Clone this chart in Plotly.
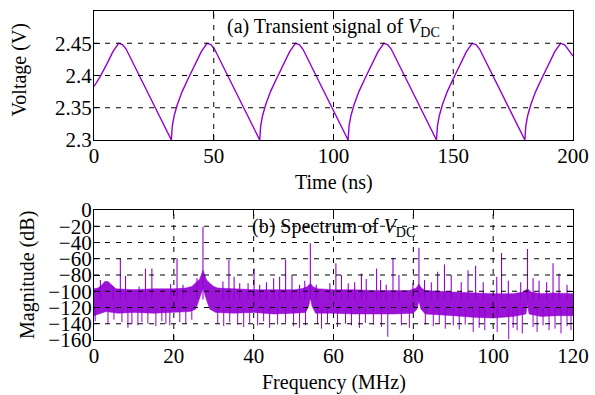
import plotly.graph_objects as go

# ---------------- (a) transient waveform ----------------
time_ns = [0, 2.4, 5.4, 7.9, 10.3, 11.9, 13.4,
           32.3, 32.7, 33.5, 34.8, 36.8, 39.3, 42.3, 44.8, 47.2, 48.8, 50.3,
           69.2, 69.6, 70.4, 71.7, 73.7, 76.2, 79.2, 81.7, 84.1, 85.7, 87.2,
           106.1, 106.5, 107.3, 108.6, 110.6, 113.1, 116.1, 118.6, 121.0, 122.6, 124.1,
           143.0, 143.4, 144.2, 145.5, 147.5, 150.0, 153.0, 155.5, 157.9, 159.5, 161.0,
           179.9, 180.3, 181.1, 182.4, 184.4, 186.9, 189.9, 192.4, 194.8, 196.4, 197.9, 200]
voltage = [2.383, 2.397, 2.418, 2.437, 2.450, 2.448, 2.441,
           2.300, 2.322, 2.338, 2.355, 2.375, 2.395, 2.418, 2.437, 2.450, 2.448, 2.441,
           2.300, 2.322, 2.338, 2.355, 2.375, 2.395, 2.418, 2.437, 2.450, 2.448, 2.441,
           2.300, 2.322, 2.338, 2.355, 2.375, 2.395, 2.418, 2.437, 2.450, 2.448, 2.441,
           2.300, 2.322, 2.338, 2.355, 2.375, 2.395, 2.418, 2.437, 2.450, 2.448, 2.441,
           2.300, 2.322, 2.338, 2.355, 2.375, 2.395, 2.418, 2.437, 2.450, 2.448, 2.441, 2.430]

time_ticks = [0, 50, 100, 150, 200]
volt_ticks = [2.3, 2.35, 2.4, 2.45, 2.5]
volt_ticktext = ["2.3", "2.35", "2.4", "2.45", "2.5"]

# ---------------- (b) spectrum ----------------
# upper edge of the dense noise floor (MHz, dB)
upper_f = [0, 1, 2, 2.7, 3.5, 4.5, 5.5, 10, 15, 20, 23, 24.5, 25.5, 26.5, 27.0, 27.3, 27.6,
           28.2, 29, 30, 31, 35, 40, 45, 50, 52, 53.5, 54.2, 54.8, 56, 60, 65, 70, 75, 79,
           80.7, 81.4, 82, 83, 90, 95, 100, 105, 107.5, 108.6, 109.5, 112, 115, 120]
upper_db = [-97, -96, -92, -88, -88, -92, -97, -98, -97, -97, -96, -94, -90, -85, -78, -74, -78,
            -86, -90, -94, -96, -97, -98, -98, -98, -97, -94, -90, -94, -97, -98, -98, -99, -99, -99,
            -96, -91, -96, -99, -101, -102, -103, -103, -101, -97, -101, -103, -102, -103]
# lower edge of the dense noise floor (MHz, dB)
lower_f = [0, 3, 6, 10, 15, 20, 24, 25.5, 26.5, 27.3, 28.0, 29, 30.5, 35, 40, 45, 50, 53,
           53.8, 54.2, 54.6, 55.5, 60, 65, 70, 75, 80, 80.9, 81.4, 81.9, 83, 90, 95, 100,
           105, 108.2, 108.6, 109.0, 112, 116, 120]
lower_db = [-130, -125, -127, -126, -127, -126, -125, -122, -108, -96, -108, -122, -126, -127,
            -126, -128, -127, -126, -118, -108, -118, -127, -127, -128, -128, -128, -127, -122,
            -112, -122, -128, -130, -132, -133, -131, -128, -116, -128, -131, -130, -130]

# downward noise excursions (MHz, dB)
dip_f = [0.3, 3.5, 5, 7, 8.5, 9.5, 11, 12, 13.5, 15.5, 17, 18, 19, 21.5, 23, 24.5,
         31, 32.5, 34, 36, 37.5, 39, 41, 42.5, 44, 46, 48, 50, 51.5, 53, 56, 57, 58.5,
         61, 63, 64.5, 66.5, 68, 70, 72, 73.6, 77, 79, 83, 85, 86.5, 88, 90, 91.5, 93,
         95, 96.5, 97.9, 101, 103.9, 105, 106, 107.3, 110, 111, 112.5, 114, 115.5, 117,
         118.5, 119.5]
dip_db = [-137, -140, -135, -138, -145, -140, -142, -138, -140, -143, -137, -140, -142, -138,
          -140, -135, -140, -143, -138, -141, -144, -139, -142, -137, -145, -141, -139, -143,
          -145, -142, -140, -146, -139, -144, -140, -142, -145, -139, -141, -144, -156, -142,
          -145, -141, -143, -139, -146, -142, -147, -141, -150, -145, -148, -150, -159, -145,
          -148, -152, -144, -150, -142, -148, -146, -152, -143, -148]

# discrete spectral lines (MHz, peak dB)
line_f = [1.6, 4.8, 6.6, 7.9, 11.3, 12.9, 14.5, 19.2, 20.8, 22.3, 25.8, 27.3,
          32.3, 33.8, 35.1, 36.5, 38.6, 40.1, 41.5, 43.2, 45.0, 46.5, 48.0, 49.6,
          51.5, 52.8, 54.2, 55.7, 59.1, 60.6, 62.0, 63.7, 65.3, 67.0, 68.2, 70.8,
          71.8, 73.2, 74.9, 76.4, 79.9, 81.4, 82.8, 84.5, 86.1, 87.8, 89.5, 92.0,
          93.7, 95.6, 97.5, 100.9, 102.1, 103.8, 106.9, 108.6, 110.0, 111.5, 113.4,
          115.0, 116.5, 118.5]
line_db = [-86, -94, -60, -81, -94, -72, -72, -91, -59.5, -92, -84, -20.5,
           -88, -61.5, -82, -90, -90, -72, -92, -89, -84, -82, -61.5, -80,
           -92, -87, -41, -92, -90, -65.5, -80, -90, -89, -78, -85, -72,
           -86, -92, -58.7, -80, -90, -46.4, -86, -89, -76, -67, -80, -89,
           -74, -68.6, -89, -82, -53, -87, -89, -48, -84, -87, -89,
           -65.6, -78, -92]
line_base_db = -110

freq_ticks = [0, 20, 40, 60, 80, 100, 120]
mag_ticks = [0, -20, -40, -60, -80, -100, -120, -140, -160]
mag_ticktext = ["0", "\u221220", "\u221240", "\u221260", "\u221280", "\u2212100",
                "\u2212120", "\u2212140", "\u2212160"]

PURPLE = "#9400D3"
FONT = "Liberation Serif"
FS = 20
TFS = 21

fig = go.Figure()

fig.add_trace(go.Scatter(x=time_ns, y=voltage, mode="lines",
                         line=dict(color=PURPLE, width=1.4), xaxis="x", yaxis="y",
                         showlegend=False, hoverinfo="skip"))

# noise band: polygon from upper edge and reversed lower edge
band_x = upper_f + lower_f[::-1]
band_y = upper_db + lower_db[::-1]
fig.add_trace(go.Scatter(x=band_x, y=band_y, mode="lines", fill="toself",
                         fillcolor="#9A14D6", line=dict(color=PURPLE, width=0.5),
                         xaxis="x2", yaxis="y2", showlegend=False, hoverinfo="skip"))

# downward excursions
dx, dy = [], []
for f, d in zip(dip_f, dip_db):
    dx += [f, f, None]
    dy += [-120, d, None]
fig.add_trace(go.Scatter(x=dx, y=dy, mode="lines", line=dict(color=PURPLE, width=1),
                         xaxis="x2", yaxis="y2", showlegend=False, hoverinfo="skip"))

# spectral lines
lx, ly = [], []
for f, d in zip(line_f, line_db):
    lx += [f, f, None]
    ly += [line_base_db, d, None]
fig.add_trace(go.Scatter(x=lx, y=ly, mode="lines", line=dict(color=PURPLE, width=1.1),
                         xaxis="x2", yaxis="y2", showlegend=False, hoverinfo="skip"))

# dashed grid drawn above the data
grid_style = dict(color="black", width=1, dash="5px,6px")
shapes = []
for t in time_ticks[1:-1]:
    shapes.append(dict(type="line", xref="x", yref="y domain", x0=t, x1=t, y0=0, y1=1,
                       line=grid_style, layer="above"))
for v in volt_ticks[1:-1]:
    shapes.append(dict(type="line", xref="x domain", yref="y", x0=0, x1=1, y0=v, y1=v,
                       line=grid_style, layer="above"))
for f in freq_ticks[1:-1]:
    shapes.append(dict(type="line", xref="x2", yref="y2 domain", x0=f, x1=f, y0=0, y1=1,
                       line=grid_style, layer="above"))
for m in mag_ticks[1:-1]:
    shapes.append(dict(type="line", xref="x2 domain", yref="y2", x0=0, x1=1, y0=m, y1=m,
                       line=grid_style, layer="above"))

axis_common = dict(showgrid=False, zeroline=False, showline=True, linecolor="black",
                   linewidth=1.2, mirror="allticks", ticks="inside", ticklen=6,
                   tickcolor="black", tickwidth=1.2, layer="above traces", automargin=False,
                   tickfont=dict(family=FONT, size=TFS, color="black"))

H = 395
top_px, mid1_px, mid2_px, bot_px = 11, 140, 210, 340
span = bot_px - top_px

fig.update_layout(
    width=595, height=395,
    margin=dict(l=94, r=22, t=top_px, b=H - bot_px, autoexpand=False),
    paper_bgcolor="white", plot_bgcolor="white",
    font=dict(family=FONT, size=FS, color="black"),
    xaxis=dict(domain=[0, 1], range=[0, 200], tickvals=time_ticks, anchor="y",
               ticklabelstandoff=-3, **axis_common),
    yaxis=dict(domain=[(bot_px - mid1_px) / span, 1], range=[2.3, 2.5], tickvals=volt_ticks,
               ticktext=volt_ticktext, anchor="x", ticklabelstandoff=-3, **axis_common),
    xaxis2=dict(domain=[0, 1], range=[0, 120], tickvals=freq_ticks, anchor="y2",
                ticklabelstandoff=-3, **axis_common),
    yaxis2=dict(domain=[0, (bot_px - mid2_px) / span], range=[-160, 0], tickvals=mag_ticks,
                ticktext=mag_ticktext, anchor="x2", ticklabelstandoff=-3, **axis_common),
    shapes=shapes,
)

def py(p):
    return (bot_px - p) / span

def px(p):
    return (p - 94) / (595 - 94 - 22)

ann = [
    dict(text="(a) Transient signal of <i>V</i><sub>DC</sub>", x=px(333), y=py(28)),
    dict(text="(b) Spectrum of <i>V</i><sub>DC</sub>", x=px(333), y=py(228)),
    dict(text="Time (ns)", x=px(334), y=py(182)),
    dict(text="Frequency (MHz)", x=px(334), y=py(382)),
    dict(text="Voltage (V)", x=px(18.5), y=py(70), textangle=-90),
    dict(text="Magnitude (dB)", x=px(27), y=py(275), textangle=-90),
]
for a in ann:
    fig.add_annotation(xref="paper", yref="paper", showarrow=False,
                       xanchor="center", yanchor="middle",
                       font=dict(family=FONT, size=FS, color="black"), **a)

fig.write_html("out.html")
